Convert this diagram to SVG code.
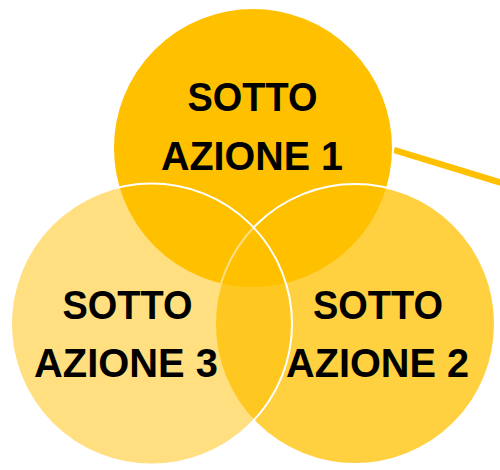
<svg xmlns="http://www.w3.org/2000/svg" width="500" height="470" viewBox="0 0 500 470">
<style>
.c{stroke:#FFFFFF;stroke-width:2}
.t{font-family:"Liberation Sans",Arial,sans-serif;font-weight:bold;font-size:40px;fill:#000000;text-anchor:middle}
</style>
<rect width="500" height="470" fill="#FFFFFF"/>
<g id="connectors">
<line x1="394" y1="150" x2="502" y2="183" stroke="#FFC000" stroke-width="6.5"/>
</g>
<g id="sotto-azione-1">
<circle class="c" cx="253" cy="148" r="140" fill="#FFC000"/>
</g>
<g id="sotto-azione-2">
<circle class="c" cx="355" cy="324" r="140" fill="#FFC000" fill-opacity="0.75"/>
</g>
<g id="sotto-azione-3">
<circle class="c" cx="151.5" cy="324" r="140.5" fill="#FFC000" fill-opacity="0.5"/>
</g>
<g id="labels">
<text class="t" x="252.5" y="111" textLength="130" lengthAdjust="spacingAndGlyphs">SOTTO</text>
<text class="t" x="252" y="170" textLength="182" lengthAdjust="spacingAndGlyphs">AZIONE 1</text>
<text class="t" x="127.5" y="319" textLength="130" lengthAdjust="spacingAndGlyphs">SOTTO</text>
<text class="t" x="126" y="377" textLength="184" lengthAdjust="spacingAndGlyphs">AZIONE 3</text>
<text class="t" x="378" y="319" textLength="130" lengthAdjust="spacingAndGlyphs">SOTTO</text>
<text class="t" x="377.5" y="377" textLength="183" lengthAdjust="spacingAndGlyphs">AZIONE 2</text>
</g>
</svg>
